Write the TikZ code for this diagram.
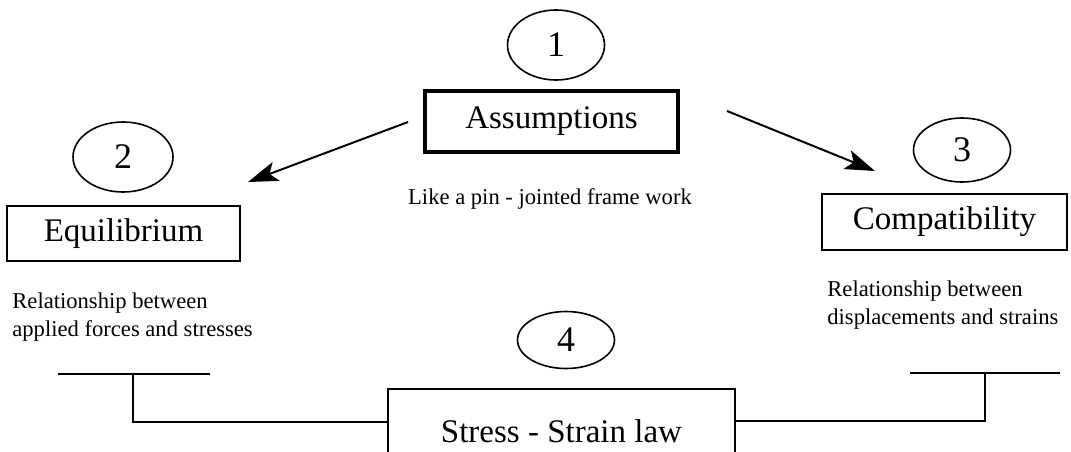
\documentclass[tikz,border=0pt]{standalone}
\usepackage{fontspec}
\setmainfont{Liberation Serif}
\usetikzlibrary{arrows.meta, positioning, shapes.geometric, calc}
\tikzset{
    labelbox/.style = {draw, line width=0.8pt, inner sep=0pt, font=\fontsize{16.5}{18}\selectfont},
    num/.style = {ellipse, draw, line width=0.8pt, inner sep=0pt, minimum width=48.5pt, minimum height=35pt, font=\fontsize{18}{20}\selectfont},
    note/.style = {inner sep=0pt, align=left, font=\fontsize{11.3}{14}\selectfont},
    flow/.style = {line width=1pt, -{Stealth[length=15pt, width=10pt, inset=3.5pt]}},
    link/.style = {line width=0.8pt}
}

\begin{document}
\begin{tikzpicture}[x=0.5pt, y=-0.5pt]
  \useasboundingbox (0,0) rectangle (1071,451);

  % step 1
  \node[num] (n1) at (556,45) {1};
  \node[labelbox, line width=1.6pt, minimum width=126.5pt, minimum height=30.5pt] (assume) at (551.5,121.5) {Assumptions};
  \node[note, anchor=base] (pin) at (550,204) {Like a pin - jointed frame work};

  % step 2
  \node[num, minimum width=50pt] (n2) at (123,157) {2};
  \node[labelbox, minimum width=116.5pt, minimum height=27.5pt] (equil) at (123.5,233.5) {Equilibrium};
  \node[note, anchor=north west] (equilnote) at (12,292) {Relationship between\\applied forces and stresses};

  % step 3
  \node[num, minimum height=32pt] (n3) at (962,150) {3};
  \node[labelbox, minimum width=122.5pt, minimum height=28pt] (compat) at (944.5,222) {Compatibility};
  \node[note, anchor=north west] (compatnote) at (827,280) {Relationship between\\displacements and strains};

  % step 4
  \node[num, minimum height=28.5pt] (n4) at (566,340) {4};
  \node[labelbox, minimum width=173.5pt, minimum height=42pt] (stress) at (561.5,431) {Stress - Strain law};

  % arrows from the assumptions
  \coordinate (a1) at (408,122);
  \coordinate (t1) at (248,182);
  \coordinate (a2) at (727,111);
  \coordinate (t2) at (875,171);
  \draw[flow] (a1) -- (t1);
  \draw[flow] (a2) -- (t2);

  % brackets to the stress-strain law
  \coordinate (lbarL) at (58,374);
  \coordinate (lbarR) at (210,374);
  \coordinate (ljoin) at (133,374);
  \coordinate (rbarL) at (910,373);
  \coordinate (rbarR) at (1060,373);
  \coordinate (rjoin) at (985,373);
  \draw[link] (lbarL) -- (lbarR);
  \draw[link] (rbarL) -- (rbarR);
  \draw[link] (stress.north west) ++(0,34) -| (ljoin);
  \draw[link] (stress.north east) ++(0,33) -| (rjoin);
\end{tikzpicture}
\end{document}
